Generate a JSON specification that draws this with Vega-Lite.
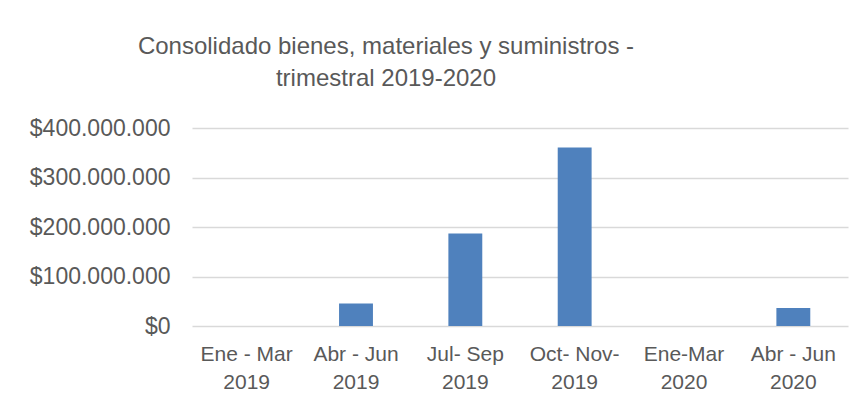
{
  "$schema": "https://vega.github.io/schema/vega-lite/v6.json",
  "width": 656,
  "height": 198,
  "autosize": {"type": "none"},
  "padding": {"left": 192, "top": 128, "right": 16, "bottom": 78},
  "background": "white",
  "config": {
    "locale": {"number": {"decimal": ",", "thousands": ".", "grouping": [3], "currency": ["$", ""]}},
    "view": {"stroke": null},
    "font": "Liberation Sans"
  },
  "title": {
    "text": ["Consolidado bienes, materiales y suministros -", "trimestral 2019-2020"],
    "fontSize": 24,
    "fontWeight": "normal",
    "color": "#595959",
    "font": "Liberation Sans",
    "lineHeight": 32,
    "anchor": "middle",
    "frame": "group",
    "dx": -134,
    "offset": 26
  },
  "data": {
    "values": [
      {"periodo": "Ene - Mar 2019", "valor": 0},
      {"periodo": "Abr - Jun 2019", "valor": 45300000},
      {"periodo": "Jul- Sep 2019", "valor": 186700000},
      {"periodo": "Oct- Nov- 2019", "valor": 360400000},
      {"periodo": "Ene-Mar 2020", "valor": 0},
      {"periodo": "Abr - Jun 2020", "valor": 36400000}
    ]
  },
  "mark": {"type": "bar", "color": "#4f81bd"},
  "encoding": {
    "x": {
      "field": "periodo",
      "type": "nominal",
      "sort": null,
      "scale": {"paddingInner": 0.69, "paddingOuter": 0.345},
      "axis": {
        "title": null,
        "domain": false,
        "ticks": false,
        "labelAngle": 0,
        "labelOverlap": false,
        "labelFontSize": 21,
        "labelColor": "#595959",
        "labelPadding": 17,
        "labelLineHeight": 28,
        "labelExpr": "[slice(datum.label, 0, lastindexof(datum.label, ' ')), slice(datum.label, lastindexof(datum.label, ' ') + 1)]"
      }
    },
    "y": {
      "field": "valor",
      "type": "quantitative",
      "scale": {"domain": [0, 400000000], "nice": false},
      "axis": {
        "title": null,
        "values": [0, 100000000, 200000000, 300000000, 400000000],
        "format": "$,.0f",
        "domain": false,
        "ticks": false,
        "grid": true,
        "gridColor": "#d9d9d9",
        "gridWidth": 1.3,
        "labelFontSize": 23,
        "labelColor": "#595959",
        "labelPadding": 22
      }
    }
  }
}
